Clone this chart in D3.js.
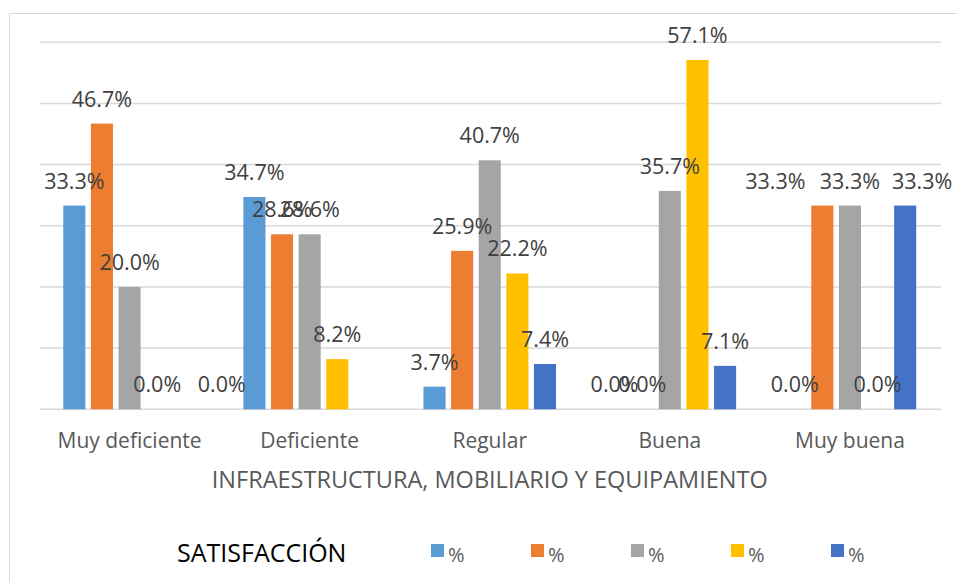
<!DOCTYPE html>
<html>
<head>
<meta charset="utf-8">
<script src="https://cdn.jsdelivr.net/npm/d3@7"></script>
<style>
  html, body { margin: 0; padding: 0; background: #fff; }
  svg { display: block; font-family: "Open Sans", "Noto Sans", sans-serif; }
</style>
</head>
<body>
<svg id="chart" width="957" height="582"></svg>
<script>
// datos del gráfico
const categories = ["Muy deficiente", "Deficiente", "Regular", "Buena", "Muy buena"];
const seriesNames = ["%", "%", "%", "%", "%"];
const serie1 = [33.3, 34.7, 3.7, 0.0, 0.0];
const serie2 = [46.7, 28.6, 25.9, 0.0, 33.3];
const serie3 = [20.0, 28.6, 40.7, 35.7, 33.3];
const serie4 = [0.0, 8.2, 22.2, 57.1, 0.0];
const serie5 = [0.0, null, 7.4, 7.1, 33.3];
const yTicks = [0, 10, 20, 30, 40, 50, 60];
const axisTitle = "INFRAESTRUCTURA, MOBILIARIO Y EQUIPAMIENTO";
const legendTitle = "SATISFACCIÓN";

const colors = ["#5B9BD5", "#ED7D31", "#A5A5A5", "#FFC000", "#4472C4"];
// etiquetas movidas a mano en el original (serie, categoría, dx)
const labelNudge = [
  { s: 4, c: 0, dx: 37 },
  { s: 1, c: 4, dx: -47 },
  { s: 4, c: 4, dx: 17 }
];

const allSeries = [serie1, serie2, serie3, serie4, serie5];

const svg = d3.select("#chart");

// marco del gráfico
svg.append("rect")
  .attr("x", 9.5).attr("y", 13.5)
  .attr("width", 1000).attr("height", 700)
  .attr("fill", "none")
  .attr("stroke", "#d9d9d9")
  .attr("stroke-width", 1);

const plotLeft = 39.5, plotRight = 940, plotTop = 42.2, plotBottom = 409.3;

const x0 = d3.scaleBand()
  .domain(categories)
  .range([plotLeft, plotRight])
  .paddingInner(0.264)
  .paddingOuter(0.132);

const x1 = d3.scaleBand()
  .domain(d3.range(allSeries.length))
  .range([0, x0.bandwidth()])
  .paddingInner(0.2);

const y = d3.scaleLinear()
  .domain([0, 60])
  .range([plotBottom, plotTop]);

// líneas de cuadrícula
svg.append("g")
  .selectAll("line")
  .data(yTicks)
  .enter()
  .append("line")
  .attr("x1", plotLeft)
  .attr("x2", plotRight + 1)
  .attr("y1", (d) => y(d))
  .attr("y2", (d) => y(d))
  .attr("stroke", "#d9d9d9")
  .attr("stroke-width", 1.5);

// barras
const rows = [];
allSeries.forEach((vals, s) => {
  vals.forEach((v, c) => {
    if (v === null) return;
    const nudge = labelNudge.find((n) => n.s === s && n.c === c);
    rows.push({ s, c, v, dx: nudge ? nudge.dx : 0 });
  });
});

svg.append("g")
  .selectAll("rect")
  .data(rows)
  .enter()
  .append("rect")
  .attr("x", (d) => x0(categories[d.c]) + x1(d.s))
  .attr("y", (d) => y(d.v))
  .attr("width", x1.bandwidth())
  .attr("height", (d) => y(0) - y(d.v))
  .attr("fill", (d) => colors[d.s]);

// etiquetas de datos
svg.append("g")
  .selectAll("text")
  .data(rows)
  .enter()
  .append("text")
  .attr("x", (d) => x0(categories[d.c]) + x1(d.s) + x1.bandwidth() / 2 + d.dx)
  .attr("y", (d) => y(d.v) - 17)
  .attr("text-anchor", "middle")
  .style("font-size", "21.5px")
  .style("fill", "#404040")
  .text((d) => d3.format(".1f")(d.v) + "%");

// eje x
const xAxis = svg.append("g")
  .attr("transform", `translate(0,${plotBottom})`)
  .call(d3.axisBottom(x0).tickSize(0).tickPadding(0));
xAxis.select(".domain").remove();
xAxis.selectAll("text")
  .attr("dy", null)
  .attr("y", 39)
  .style("font-family", "\"Open Sans\", sans-serif")
  .style("font-size", "21px")
  .style("fill", "#595959");

// título del eje
svg.append("text")
  .attr("x", (plotLeft + plotRight) / 2)
  .attr("y", 488)
  .attr("text-anchor", "middle")
  .style("font-size", "23.5px")
  .style("fill", "#595959")
  .text(axisTitle);

// leyenda
svg.append("text")
  .attr("x", 177)
  .attr("y", 562)
  .style("font-size", "25px")
  .style("fill", "#000")
  .text(legendTitle);

const legend = svg.append("g")
  .selectAll("g")
  .data(seriesNames)
  .enter()
  .append("g")
  .attr("transform", (d, i) => `translate(${431 + i * 100},544)`);

legend.append("rect")
  .attr("width", 13)
  .attr("height", 13)
  .attr("fill", (d, i) => colors[i]);

legend.append("text")
  .attr("x", 17)
  .attr("y", 18)
  .style("font-size", "20px")
  .style("fill", "#595959")
  .text((d) => d);
</script>
</body>
</html>
